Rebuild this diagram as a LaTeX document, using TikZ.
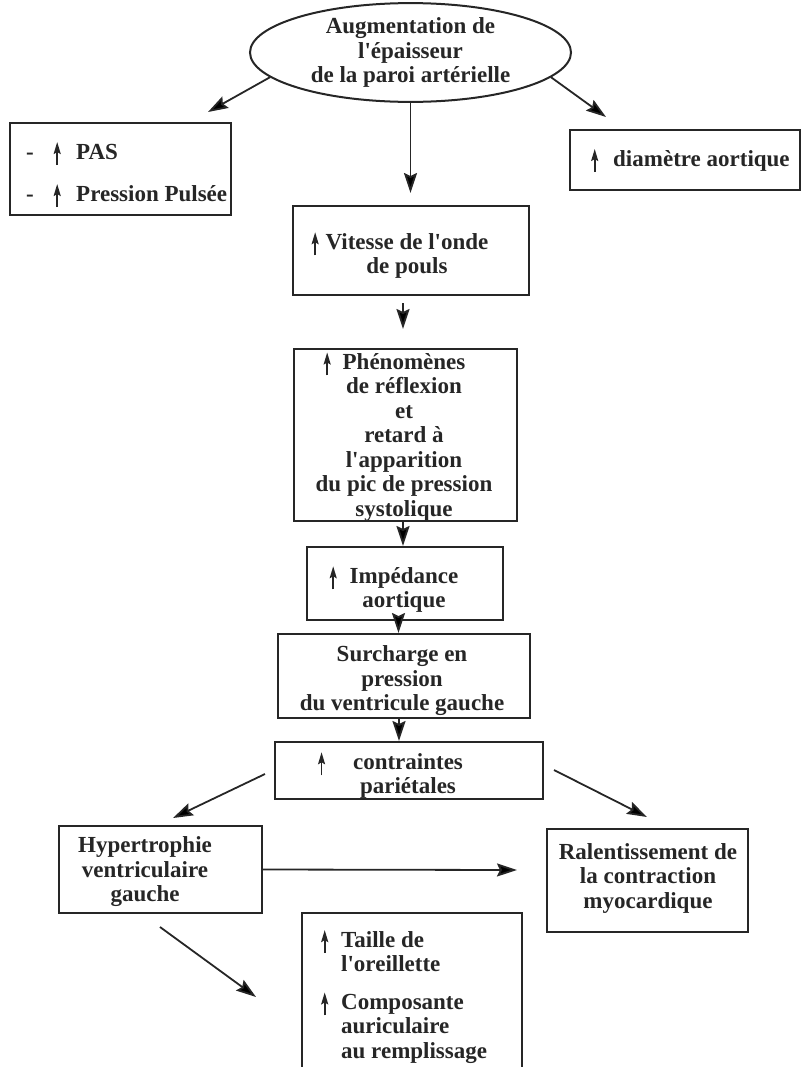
\documentclass[tikz,border=0pt]{standalone}
\usepackage{fontspec}
\setmainfont{Liberation Serif}
\usetikzlibrary{arrows.meta,shapes.geometric,calc}
\definecolor{ink}{HTML}{262626}
\newcommand\uparr{\tikz[baseline=0pt,x=1bp,y=1bp]\draw[ink,line width=1.8bp,-{Stealth[length=12bp,width=7bp,inset=2bp]}] (0,-6)--(0,17);}
\newcommand\apo{\textquotesingle}
\begin{document}
\begin{tikzpicture}[x=1bp,y=-1bp,
  every node/.style={font=\bfseries\fontsize{23bp}{24.5bp}\selectfont, text=ink},
  box/.style={draw=ink, line width=2bp, rectangle, inner sep=0pt},
  txt/.style={align=center, inner sep=0pt},
  ltxt/.style={align=left, inner sep=0pt},
  conn/.style={draw=ink, line width=1.8bp, -{Stealth[length=20bp,width=13bp,inset=3bp]}}]
\useasboundingbox (0,0) rectangle (807,1067);
\clip (0,0) rectangle (807,1067);

% top ellipse
\node[draw=ink, line width=2bp, ellipse, minimum width=321bp, minimum height=91bp, inner sep=0pt, align=center] (ell) at (410.5,52.5)
  {Augmentation de\\l\apo épaisseur\\de la paroi artérielle};

% left box
\node[box, minimum width=221bp, minimum height=92bp] (pas) at (120.5,169) {};
\node[inner sep=0pt, anchor=base west] (pasA) at (26,159) {\rlap{-}\hspace{31bp}\makebox[0pt]{\uparr}\hspace{19bp}PAS};
\node[inner sep=0pt, anchor=base west] (pasB) at (26,201) {\rlap{-}\hspace{31bp}\makebox[0pt]{\uparr}\hspace{19bp}Pression Pulsée};

% right box
\node[box, minimum width=230bp, minimum height=60bp] (diam) at (685,160) {};
\node[inner sep=0pt, anchor=base west] (diamT) at (613,166) {\llap{\uparr\hspace{15bp}}diamètre aortique};

% vitesse
\node[box, minimum width=236bp, minimum height=89bp] (vit) at (411,250.5) {};
\node[txt] (vitT) at (407,255) {\llap{\uparr\hspace{7bp}}Vitesse de l\apo onde\\de pouls};

% phenomenes
\node[box, minimum width=223bp, minimum height=172bp] (phen) at (405.5,435) {};
\node[txt] (phenT) at (404,436.5) {\llap{\uparr\hspace{12bp}}Phénomènes\\de réflexion\\et\\retard à\\l\apo apparition\\du pic de pression\\systolique};

% impedance
\node[box, minimum width=196bp, minimum height=73bp] (imp) at (405,583.5) {};
\node[txt] (impT) at (404,589) {\llap{\uparr\hspace{13bp}}Impédance\\aortique};

% surcharge
\node[box, minimum width=252bp, minimum height=84bp] (surch) at (404,676) {};
\node[txt] (surchT) at (402,681) {Surcharge en\\pression\\du ventricule gauche};

% contraintes
\node[box, minimum width=268bp, minimum height=57bp] (contr) at (409,770.5) {};
\node[txt] (contrT) at (408,775) {\llap{\uparr\hspace{28bp}}contraintes\\pariétales};

% hypertrophie
\node[box, minimum width=203bp, minimum height=87bp] (hyper) at (160.5,869.5) {};
\node[txt] (hyperT) at (145,872) {Hypertrophie\\ventriculaire\\gauche};

% ralentissement
\node[box, minimum width=201bp, minimum height=103bp] (ralent) at (647.5,880.5) {};
\node[txt] (ralentT) at (648,878) {Ralentissement de\\la contraction\\myocardique};

% bottom box
\node[box, minimum width=220bp, minimum height=177bp] (bot) at (412,1001.5) {};
\node[ltxt, anchor=west] (botA) at (341,950.5) {\llap{\uparr\hspace{13bp}}Taille de\\l\apo oreillette};
\node[ltxt, anchor=west] (botB) at (341,1027.5) {\llap{\uparr\hspace{13bp}}Composante\\auriculaire\\au remplissage};

% coordinates for free ends
\coordinate (pasTip) at (208,112);
\coordinate (diamTip) at (606,117);
\coordinate (vitTip) at (410,193);
\coordinate (vpA) at (403,303);
\coordinate (vpB) at (403,329);
\coordinate (xA) at (403,0);
\coordinate (xB) at (398.5,0);
\coordinate (xC) at (399,0);
\coordinate (chA) at (265,774);
\coordinate (chB) at (173,818);
\coordinate (crA) at (554,770);
\coordinate (crB) at (647,817);
\coordinate (hrTip) at (517,870);
\coordinate (hbA) at (160,927);
\coordinate (hbB) at (256,997);

% connectors
\draw[conn] (ell.190) -- (pasTip);
\draw[conn] (ell.350) -- (diamTip);
\draw[conn] (ell.south) -- (ell.south |- vitTip);
\draw[conn] (vpA) -- (vpB);
\draw[conn] (phen.south -| xA) -- (imp.north -| xA);
\draw[conn] (imp.south -| xB) -- (surch.north -| xB);
\draw[conn] (surch.south -| xC) -- (contr.north -| xC);
\draw[conn] (chA) -- (chB);
\draw[conn] (crA) -- (crB);
\draw[conn] (hyper.east) -- (hrTip);
\draw[conn] (hbA) -- (hbB);
\end{tikzpicture}
\end{document}
